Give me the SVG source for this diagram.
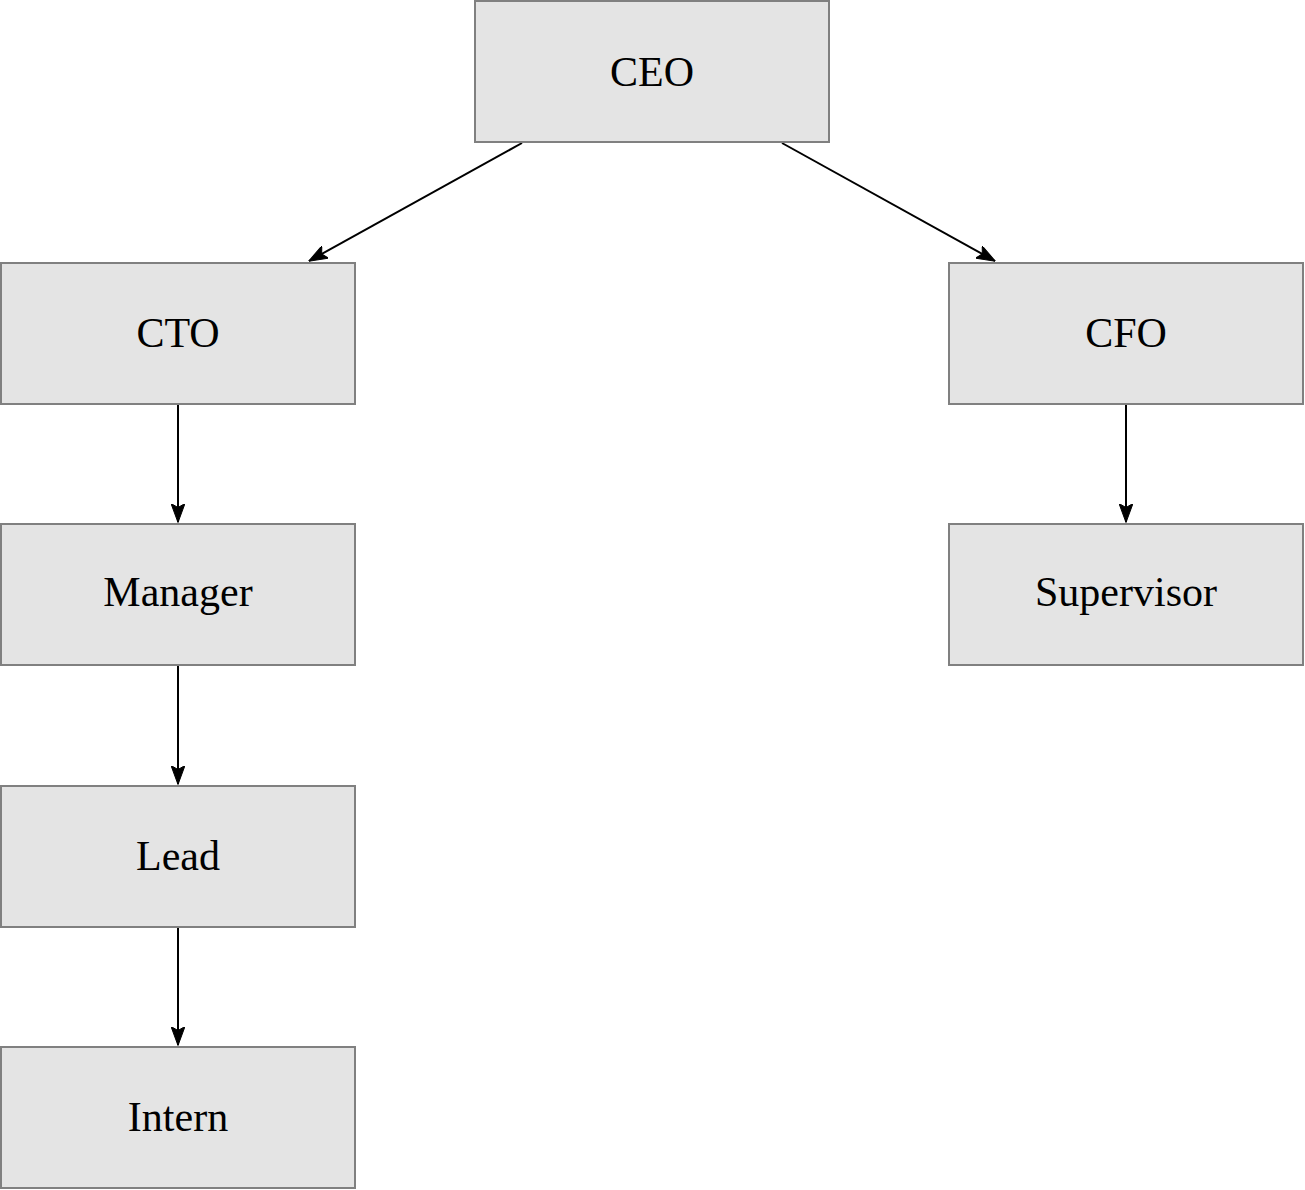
<svg xmlns="http://www.w3.org/2000/svg" width="1305" height="1190" viewBox="0 0 1305 1190">
<style>
.box{fill:#e4e4e4;stroke:#808080;stroke-width:2}
.lbl{font-family:"Liberation Serif","DejaVu Serif",serif;font-size:42px;fill:#000;text-anchor:middle}
.edge{stroke:#000;stroke-width:2;fill:none;marker-end:url(#ah)}
</style>
<defs>
<marker id="ah" viewBox="0 0 19 14" refX="18.5" refY="7" markerWidth="19" markerHeight="14" markerUnits="userSpaceOnUse" orient="auto">
<path d="M0,0 L19,7 L0,14 L4,7 Z" fill="#000" stroke="#000" stroke-width="1" stroke-linejoin="round"/>
</marker>
</defs>
<rect width="1305" height="1190" fill="#fff"/>
<g id="connectors">
<line class="edge" x1="522" y1="143" x2="309" y2="261"/>
<line class="edge" x1="782" y1="143" x2="995" y2="261"/>
<line class="edge" x1="178" y1="404" x2="178" y2="522"/>
<line class="edge" x1="178" y1="665" x2="178" y2="784"/>
<line class="edge" x1="178" y1="927" x2="178" y2="1045"/>
<line class="edge" x1="1126" y1="404" x2="1126" y2="522"/>
</g>
<g id="ceo"><rect class="box" x="475" y="1" width="354" height="141"/><text class="lbl" x="652" y="86">CEO</text></g>
<g id="cto"><rect class="box" x="1" y="263" width="354" height="141"/><text class="lbl" x="178" y="347">CTO</text></g>
<g id="cfo"><rect class="box" x="949" y="263" width="354" height="141"/><text class="lbl" x="1126" y="347">CFO</text></g>
<g id="manager"><rect class="box" x="1" y="524" width="354" height="141"/><text class="lbl" x="178" y="606">Manager</text></g>
<g id="supervisor"><rect class="box" x="949" y="524" width="354" height="141"/><text class="lbl" x="1126" y="606">Supervisor</text></g>
<g id="lead"><rect class="box" x="1" y="786" width="354" height="141"/><text class="lbl" x="178" y="870">Lead</text></g>
<g id="intern"><rect class="box" x="1" y="1047" width="354" height="141"/><text class="lbl" x="178" y="1131">Intern</text></g>
</svg>
